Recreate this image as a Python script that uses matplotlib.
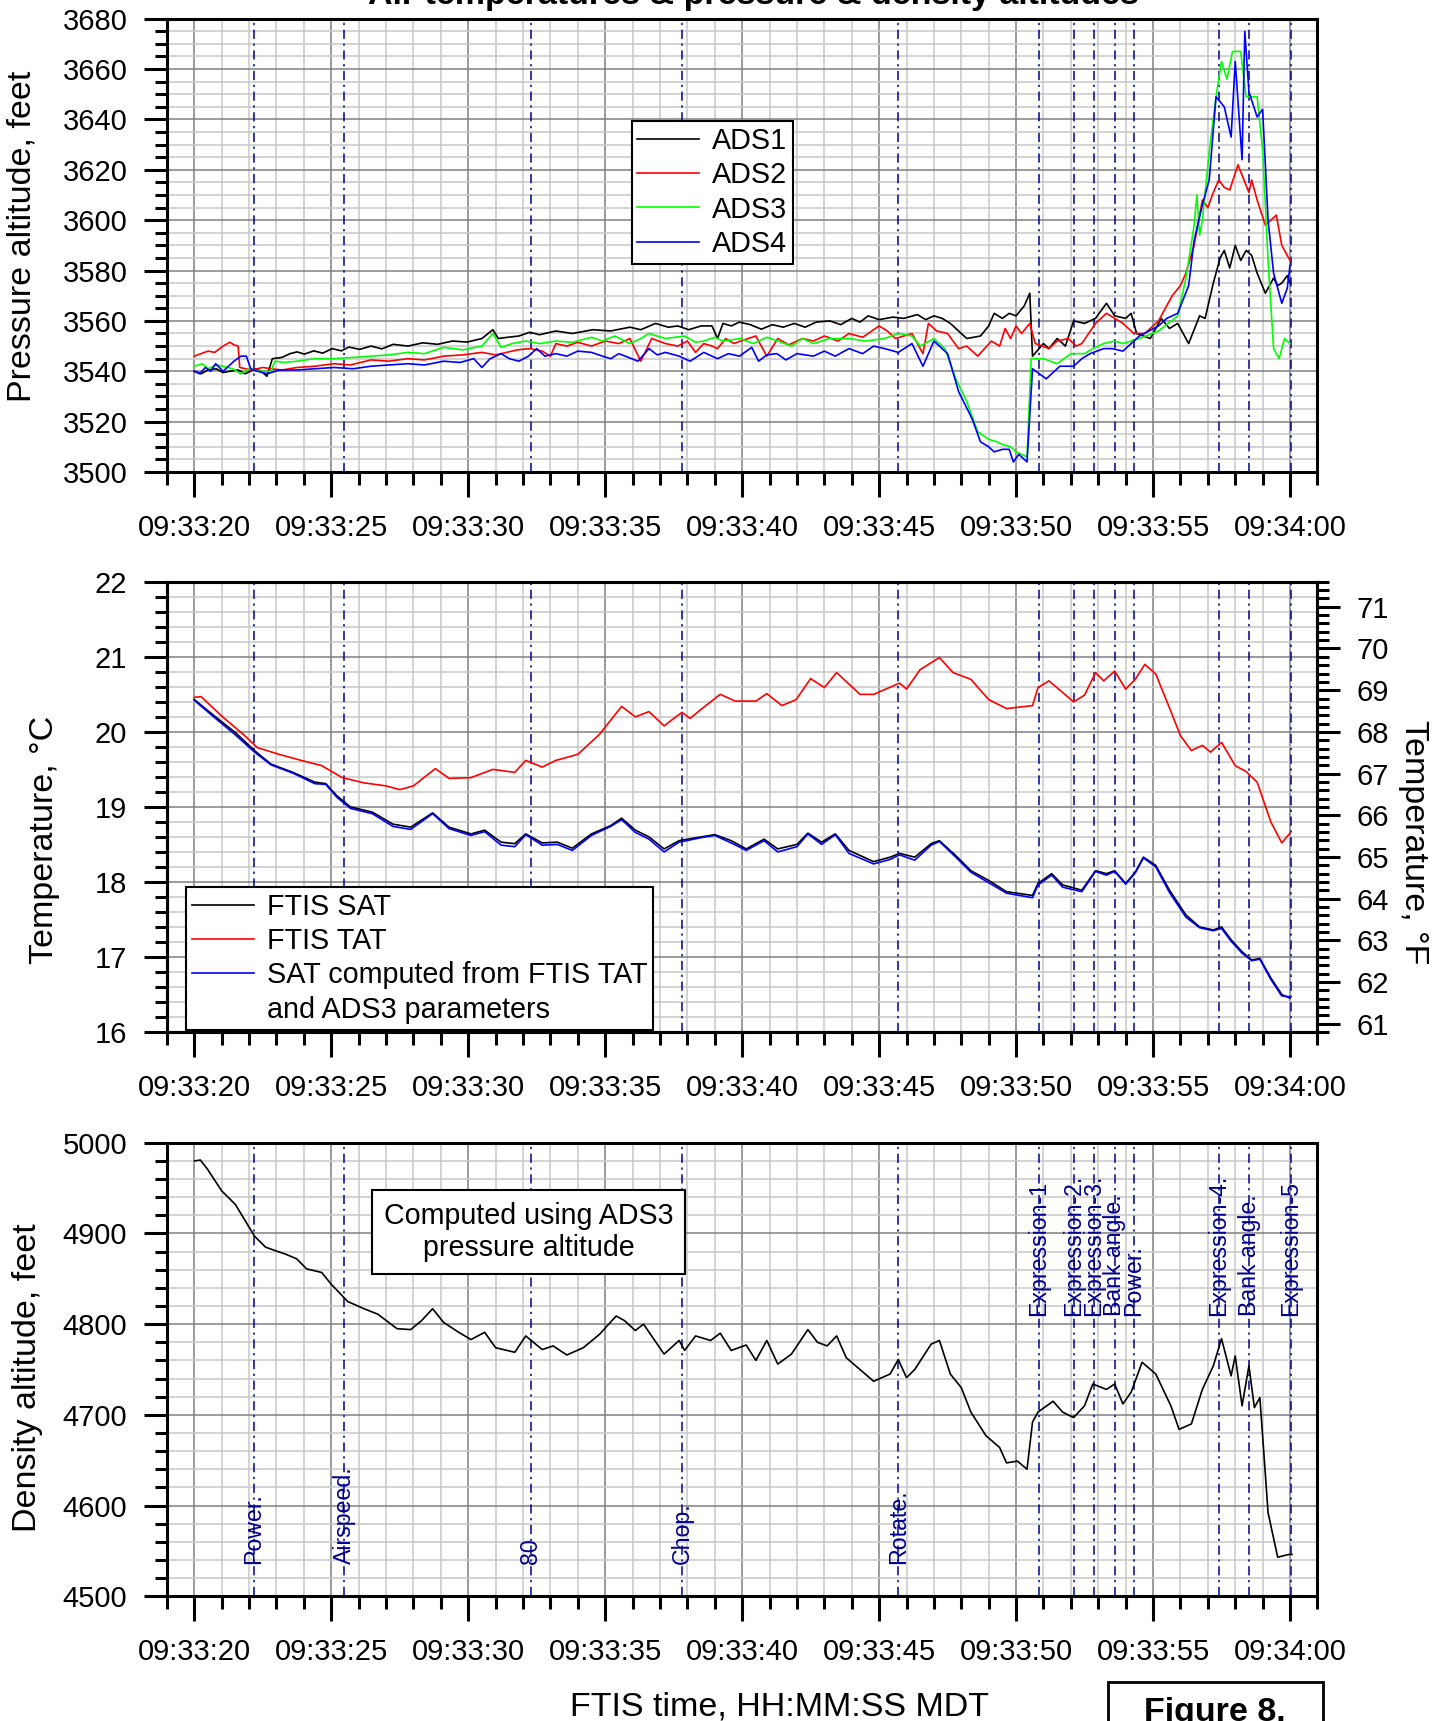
import matplotlib
matplotlib.use("Agg")
import matplotlib.pyplot as plt
from matplotlib.ticker import MultipleLocator, FuncFormatter, FormatStrFormatter
from matplotlib.lines import Line2D
from matplotlib.patches import Rectangle

plt.rcParams['font.family'] = 'Liberation Sans'

# seconds after 09:33:20 MDT
event_times = [2.17, 5.48, 12.28, 17.80, 25.70, 30.83, 32.10, 32.83, 33.61,
               34.29, 37.39, 38.51, 40.02]
event_labels = ["Power.", "Airspeed.", "80", "Chop.", "Rotate.", "Expression-1",
                "Expression-2.", "Expression-3.", "Bank angle.", "Power.",
                "Expression-4.", "Bank angle.", "Expression-5"]
event_upper = [False, False, False, False, False, True, True, True, True, True,
               True, True, True]

# pressure altitude (t, feet)
ads1 = [(0.0, 3540), (0.25, 3539), (0.5, 3540.5), (0.8, 3541), (1.05, 3539.5),
        (1.3, 3540), (1.6, 3540.5), (1.85, 3539), (2.25, 3541), (2.5, 3539.5),
        (2.65, 3538), (2.85, 3545), (3.2, 3545.5), (3.5, 3547), (3.75, 3547.7),
        (4.02, 3546.8), (4.36, 3548.1), (4.69, 3547.2), (5.03, 3549), (5.37, 3548.1),
        (5.64, 3549.6), (6.04, 3548.7), (6.45, 3550), (6.85, 3548.9), (7.26, 3550.7),
        (7.8, 3550), (8.34, 3551.3), (8.88, 3550.7), (9.42, 3552), (9.96, 3551.6),
        (10.5, 3553), (10.9, 3556.5), (11.1, 3553), (11.44, 3553.5), (11.85, 3554),
        (12.25, 3555.5), (12.6, 3554.5), (13.2, 3556), (13.8, 3555), (14.55, 3556.5),
        (15.2, 3556), (15.9, 3557.5), (16.3, 3556.5), (16.84, 3559), (17.3, 3557.5),
        (17.65, 3558), (18.05, 3556.5), (18.5, 3558), (18.9, 3558), (19.1, 3553),
        (19.3, 3559), (19.6, 3558), (19.9, 3559.5), (20.3, 3558.5), (20.7, 3556.7),
        (21.1, 3558.5), (21.5, 3557.5), (21.9, 3559), (22.3, 3557.5), (22.7, 3559.5),
        (23.2, 3560), (23.6, 3558.5), (24.0, 3561), (24.3, 3559.5), (24.6, 3562),
        (25.0, 3560.5), (25.5, 3561.5), (25.9, 3561), (26.4, 3562.5), (26.7, 3560.5),
        (27.0, 3562), (27.3, 3561), (27.6, 3559), (28.2, 3553), (28.7, 3554),
        (29.0, 3558), (29.2, 3563), (29.5, 3561), (29.75, 3563), (30.0, 3562),
        (30.3, 3566), (30.5, 3571), (30.6, 3546), (31.0, 3551), (31.2, 3549),
        (31.5, 3553), (31.8, 3550), (32.1, 3560), (32.5, 3559), (32.9, 3561),
        (33.3, 3567), (33.6, 3562), (34.0, 3561), (34.2, 3563), (34.4, 3555),
        (34.9, 3553), (35.3, 3561), (35.6, 3557), (35.9, 3559), (36.3, 3551),
        (36.7, 3562), (36.9, 3561), (37.2, 3575), (37.45, 3585), (37.6, 3588),
        (37.8, 3581), (38.0, 3590), (38.2, 3584), (38.4, 3588), (38.6, 3586),
        (38.8, 3579), (39.1, 3571), (39.4, 3577), (39.55, 3574), (39.7, 3575),
        (39.9, 3578), (40.0, 3575)]
ads2 = [(0.0, 3546), (0.25, 3547), (0.5, 3548), (0.75, 3547.5), (1.05, 3550),
        (1.3, 3551.5), (1.45, 3550.5), (1.6, 3550), (1.66, 3541.5), (2.1, 3540.5),
        (2.5, 3541.5), (2.8, 3541), (3.2, 3540.5), (3.75, 3541.5), (4.4, 3542),
        (5.1, 3543), (5.7, 3542.5), (6.45, 3544.5), (7.1, 3544), (7.8, 3545),
        (8.4, 3544.5), (9.1, 3546), (9.8, 3546.5), (10.5, 3547.5), (11.0, 3546.5),
        (11.4, 3547.5), (11.8, 3548.5), (12.25, 3549), (12.7, 3548), (13.0, 3546),
        (13.2, 3551), (13.6, 3550), (14.0, 3551.5), (14.5, 3550), (15.0, 3552),
        (15.5, 3551), (15.9, 3553), (16.3, 3544), (16.7, 3553), (17.2, 3551),
        (17.65, 3550), (18.0, 3552), (18.3, 3547.5), (18.6, 3551), (18.9, 3550),
        (19.1, 3549), (19.4, 3553), (19.7, 3551), (19.94, 3552), (20.5, 3554),
        (20.9, 3546), (21.3, 3553), (21.7, 3550.5), (22.2, 3553), (22.6, 3552),
        (23.0, 3554), (23.5, 3552), (23.9, 3555), (24.4, 3553.5), (25.0, 3558),
        (25.3, 3556), (25.6, 3553), (26.2, 3555), (26.6, 3547), (26.8, 3559),
        (27.1, 3556), (27.5, 3555), (27.9, 3549), (28.2, 3550), (28.6, 3546),
        (29.1, 3552), (29.4, 3550), (29.6, 3557), (29.8, 3553), (30.0, 3558),
        (30.2, 3555), (30.5, 3559), (30.7, 3551), (31.2, 3549), (31.5, 3552),
        (31.9, 3553), (32.2, 3550), (32.4, 3551), (32.9, 3559), (33.3, 3563),
        (33.6, 3561), (33.9, 3559), (34.3, 3555), (34.7, 3555), (35.2, 3560),
        (35.7, 3570), (36.0, 3574), (36.2, 3579), (36.5, 3590), (36.8, 3608),
        (37.0, 3605), (37.2, 3611), (37.4, 3616), (37.6, 3613), (37.8, 3612),
        (38.1, 3622), (38.5, 3611), (38.6, 3616), (38.8, 3608), (39.1, 3598),
        (39.3, 3600), (39.5, 3602), (39.7, 3590), (40.0, 3584)]
ads3 = [(0.0, 3542), (0.3, 3543), (0.5, 3541), (0.8, 3542.5), (1.05, 3542),
        (1.4, 3541), (1.7, 3539), (2.0, 3541), (2.4, 3540), (2.8, 3540),
        (2.94, 3544), (3.3, 3543.5), (3.75, 3544), (4.4, 3545), (5.1, 3545),
        (5.8, 3545.5), (6.45, 3546), (7.1, 3546.5), (7.8, 3547.5), (8.4, 3547),
        (9.1, 3549.5), (9.8, 3548.5), (10.5, 3550), (10.9, 3555), (11.2, 3549.5),
        (11.6, 3551), (12.1, 3552), (12.6, 3551), (13.2, 3552), (13.8, 3551.5),
        (14.5, 3553.5), (14.9, 3552), (15.35, 3554), (15.9, 3551), (16.3, 3553),
        (16.6, 3555), (17.2, 3553), (17.9, 3554), (18.3, 3551.5), (18.6, 3552),
        (19.0, 3553.5), (19.3, 3552), (19.94, 3553), (20.4, 3551), (20.9, 3553.5),
        (21.3, 3552), (21.8, 3550), (22.2, 3553), (22.6, 3551), (23.2, 3553),
        (23.9, 3553), (24.5, 3552), (25.2, 3553), (25.7, 3555), (26.2, 3554),
        (26.5, 3550), (27.0, 3553), (27.4, 3549), (27.8, 3537), (28.2, 3528),
        (28.6, 3516), (29.0, 3513), (29.3, 3512), (29.5, 3511), (29.8, 3510),
        (30.0, 3508), (30.4, 3506), (30.55, 3545), (31.0, 3545), (31.5, 3543),
        (32.0, 3547), (32.5, 3547), (32.8, 3549), (33.2, 3551), (33.6, 3552),
        (33.9, 3551), (34.5, 3553), (35.2, 3556), (35.9, 3562), (36.2, 3577),
        (36.5, 3598), (36.6, 3610), (36.7, 3594), (36.8, 3600), (37.05, 3627),
        (37.3, 3649), (37.5, 3663), (37.7, 3656), (37.9, 3667), (38.2, 3667),
        (38.4, 3649), (38.8, 3649), (39.0, 3628), (39.2, 3584), (39.4, 3549),
        (39.6, 3545), (39.8, 3553), (40.0, 3551)]
ads4 = [(0.0, 3540), (0.2, 3539), (0.4, 3541.5), (0.6, 3540), (0.78, 3543),
        (1.05, 3540), (1.25, 3542), (1.45, 3544), (1.7, 3546), (1.9, 3546),
        (2.06, 3541), (2.3, 3540), (2.67, 3539), (3.1, 3540.5), (3.75, 3540.5),
        (4.4, 3541), (5.1, 3541.5), (5.8, 3541), (6.45, 3542), (7.1, 3542.5),
        (7.8, 3543), (8.4, 3542.5), (9.1, 3544), (9.7, 3543.5), (10.2, 3545),
        (10.5, 3541.5), (10.8, 3545), (11.2, 3547), (11.5, 3545), (11.85, 3544),
        (12.2, 3546), (12.5, 3549), (12.8, 3546), (13.2, 3547), (13.6, 3546),
        (14.0, 3548), (14.5, 3547.5), (14.9, 3546), (15.2, 3545), (15.5, 3547),
        (16.2, 3544), (16.6, 3549), (16.9, 3546.5), (17.2, 3547.5), (17.7, 3546),
        (18.1, 3544), (18.6, 3547.5), (19.1, 3545), (19.5, 3547), (19.9, 3546),
        (20.35, 3549.5), (20.6, 3544), (20.9, 3546.5), (21.27, 3547), (21.6, 3544.5),
        (22.0, 3547), (22.6, 3546), (23.0, 3548), (23.4, 3546), (23.9, 3549),
        (24.4, 3547), (24.8, 3550), (25.2, 3549), (25.7, 3547.5), (26.2, 3551),
        (26.6, 3542), (27.0, 3552), (27.5, 3547), (27.9, 3532), (28.4, 3521),
        (28.7, 3512), (29.0, 3510), (29.2, 3508), (29.5, 3509), (29.75, 3509),
        (29.9, 3504), (30.1, 3507), (30.4, 3504), (30.6, 3541), (31.1, 3537),
        (31.6, 3542), (32.1, 3542), (32.4, 3545), (32.7, 3547), (33.2, 3549),
        (33.5, 3549), (33.9, 3548), (34.2, 3551), (34.5, 3554), (35.2, 3558),
        (35.5, 3561), (35.9, 3563), (36.3, 3574), (36.5, 3592), (36.8, 3606),
        (37.05, 3616), (37.3, 3649), (37.6, 3645), (37.85, 3633), (38.0, 3663),
        (38.25, 3624), (38.35, 3675), (38.5, 3651), (38.8, 3641), (39.0, 3644),
        (39.2, 3600), (39.4, 3579), (39.7, 3567), (39.9, 3573), (40.0, 3582)]

# temperatures (t, deg C)
ftis_sat = [(0.0, 20.43), (0.74, 20.21), (1.5, 19.99), (2.2, 19.75), (2.8, 19.57),
            (3.6, 19.46), (4.4, 19.33), (4.8, 19.31), (5.2, 19.15), (5.7, 19.00),
            (6.5, 18.93), (7.25, 18.77), (7.9, 18.73), (8.7, 18.92), (9.3, 18.73),
            (10.1, 18.64), (10.6, 18.69), (11.2, 18.53), (11.7, 18.51), (12.1, 18.64),
            (12.7, 18.52), (13.25, 18.53), (13.8, 18.45), (14.5, 18.64), (15.2, 18.75),
            (15.6, 18.85), (16.1, 18.69), (16.6, 18.60), (17.15, 18.44), (17.7, 18.55),
            (18.5, 18.60), (19.0, 18.63), (19.6, 18.55), (20.15, 18.44), (20.8, 18.57),
            (21.3, 18.44), (22.0, 18.50), (22.4, 18.65), (22.9, 18.53), (23.4, 18.64),
            (23.9, 18.42), (24.8, 18.27), (25.4, 18.33), (25.75, 18.38), (26.3, 18.33),
            (26.9, 18.51), (27.2, 18.55), (27.8, 18.35), (28.35, 18.15), (29.0, 18.02),
            (29.65, 17.87), (30.6, 17.82), (30.8, 17.98), (31.3, 18.11), (31.7, 17.96),
            (32.4, 17.89), (32.9, 18.15), (33.3, 18.11), (33.6, 18.15), (34.0, 17.98),
            (34.35, 18.13), (34.65, 18.33), (35.1, 18.22), (35.6, 17.89), (36.2, 17.56),
            (36.7, 17.40), (37.2, 17.36), (37.5, 17.40), (37.85, 17.23), (38.25, 17.07),
            (38.6, 16.96), (38.9, 16.98), (39.3, 16.72), (39.7, 16.50), (40.0, 16.45)]
ftis_tat = [(0.0, 20.46), (0.25, 20.47), (1.0, 20.21), (1.78, 19.97), (2.3, 19.79),
            (3.1, 19.70), (3.9, 19.62), (4.65, 19.55), (5.4, 19.39), (6.2, 19.32),
            (7.0, 19.28), (7.5, 19.23), (8.0, 19.28), (8.8, 19.51), (9.3, 19.38),
            (10.1, 19.39), (10.9, 19.50), (11.7, 19.46), (12.1, 19.62), (12.7, 19.53),
            (13.2, 19.62), (14.0, 19.70), (14.8, 19.97), (15.6, 20.34), (16.1, 20.20),
            (16.6, 20.27), (17.15, 20.08), (17.8, 20.26), (18.1, 20.18), (18.5, 20.30),
            (19.2, 20.50), (19.75, 20.41), (20.5, 20.41), (20.9, 20.51), (21.45, 20.35),
            (21.97, 20.43), (22.5, 20.71), (23.0, 20.59), (23.45, 20.79), (24.3, 20.50),
            (24.8, 20.50), (25.75, 20.65), (26.0, 20.57), (26.5, 20.83), (27.2, 20.99),
            (27.7, 20.79), (28.35, 20.70), (29.0, 20.43), (29.65, 20.31), (30.6, 20.35),
            (30.8, 20.59), (31.2, 20.68), (32.1, 20.40), (32.5, 20.49), (32.9, 20.79),
            (33.2, 20.68), (33.6, 20.81), (34.0, 20.57), (34.35, 20.70), (34.7, 20.90),
            (35.1, 20.77), (35.6, 20.32), (36.0, 19.95), (36.4, 19.75), (36.8, 19.82),
            (37.1, 19.73), (37.5, 19.86), (38.0, 19.55), (38.4, 19.47), (38.8, 19.33),
            (39.3, 18.80), (39.7, 18.52), (40.0, 18.65)]
sat_computed = [(0.0, 20.42), (0.74, 20.19), (1.5, 19.96), (2.2, 19.73), (2.8, 19.56),
                (3.6, 19.45), (4.4, 19.31), (4.8, 19.30), (5.2, 19.13), (5.7, 18.98),
                (6.5, 18.91), (7.25, 18.74), (7.9, 18.70), (8.7, 18.91), (9.3, 18.71),
                (10.1, 18.62), (10.6, 18.67), (11.2, 18.49), (11.7, 18.47), (12.1, 18.63),
                (12.7, 18.49), (13.25, 18.50), (13.8, 18.42), (14.5, 18.62), (15.2, 18.74),
                (15.6, 18.83), (16.1, 18.66), (16.6, 18.57), (17.15, 18.40), (17.7, 18.53),
                (18.5, 18.59), (19.0, 18.62), (19.6, 18.52), (20.15, 18.42), (20.8, 18.55),
                (21.3, 18.40), (22.0, 18.47), (22.4, 18.64), (22.9, 18.50), (23.4, 18.63),
                (23.9, 18.38), (24.8, 18.24), (25.4, 18.30), (25.75, 18.36), (26.3, 18.29),
                (26.9, 18.49), (27.2, 18.54), (27.8, 18.33), (28.35, 18.13), (29.0, 17.99),
                (29.65, 17.85), (30.6, 17.79), (30.8, 17.96), (31.3, 18.09), (31.7, 17.93),
                (32.4, 17.87), (32.9, 18.14), (33.3, 18.09), (33.6, 18.14), (34.0, 17.97),
                (34.35, 18.12), (34.65, 18.32), (35.1, 18.20), (35.6, 17.86), (36.2, 17.53),
                (36.7, 17.39), (37.2, 17.35), (37.5, 17.38), (37.85, 17.21), (38.25, 17.05),
                (38.6, 16.95), (38.9, 16.97), (39.3, 16.70), (39.7, 16.48), (40.0, 16.47)]

# density altitude from ADS3 (t, feet)
density_alt = [(0.01, 4980), (0.22, 4981), (0.48, 4971), (1.0, 4947), (1.5, 4932),
               (1.9, 4912), (2.2, 4897), (2.6, 4885), (2.96, 4881), (3.35, 4877),
               (3.74, 4872), (4.1, 4861), (4.65, 4857), (5.0, 4844), (5.6, 4825),
               (6.2, 4817), (6.7, 4811), (7.4, 4795), (7.9, 4794), (8.3, 4804),
               (8.7, 4817), (9.1, 4802), (9.6, 4792), (10.1, 4783), (10.6, 4791),
               (11.0, 4774), (11.7, 4769), (12.1, 4787), (12.7, 4772), (13.1, 4776),
               (13.6, 4766), (14.2, 4774), (14.8, 4789), (15.4, 4809), (15.7, 4804),
               (16.1, 4793), (16.4, 4800), (17.15, 4767), (17.7, 4782), (17.9, 4771),
               (18.3, 4787), (18.85, 4782), (19.2, 4790), (19.6, 4771), (20.15, 4777),
               (20.5, 4760), (20.9, 4782), (21.3, 4756), (21.8, 4767), (22.4, 4794),
               (22.75, 4780), (23.1, 4776), (23.45, 4787), (23.8, 4763), (24.3, 4750),
               (24.8, 4737), (25.4, 4745), (25.7, 4761), (26.0, 4741), (26.3, 4750),
               (26.9, 4778), (27.2, 4782), (27.6, 4745), (28.0, 4730), (28.35, 4703),
               (28.9, 4677), (29.4, 4664), (29.65, 4647), (30.05, 4649), (30.4, 4640),
               (30.6, 4692), (30.8, 4703), (31.35, 4715), (31.7, 4703), (32.1, 4697),
               (32.5, 4710), (32.8, 4734), (33.3, 4728), (33.6, 4734), (33.9, 4712),
               (34.2, 4725), (34.6, 4758), (35.1, 4745), (35.65, 4710), (35.95, 4684),
               (36.4, 4690), (36.8, 4728), (37.2, 4754), (37.5, 4784), (37.85, 4743),
               (38.0, 4765), (38.25, 4710), (38.5, 4754), (38.7, 4708), (38.9, 4719),
               (39.2, 4592), (39.55, 4543), (39.95, 4546), (40.07, 4546)]

W, H = 1447.0, 1721.0
fig = plt.figure(figsize=(W / 100, H / 100), dpi=100)

left = 166.9 / W
width = (1317.4 - 166.9) / W

def rect(top_px, bottom_px):
    return [left, 1 - bottom_px / H, width, (bottom_px - top_px) / H]

def hhmmss(t, pos):
    s = int(round(33 * 60 + 20 + t))
    return "09:%02d:%02d" % (s // 60, s % 60)

def style_axes(ax, ymin, ymax, major, minor):
    ax.set_xlim(-1, 41)
    ax.set_ylim(ymin, ymax)
    ax.xaxis.set_major_locator(MultipleLocator(5))
    ax.xaxis.set_minor_locator(MultipleLocator(1))
    ax.xaxis.set_major_formatter(FuncFormatter(hhmmss))
    ax.yaxis.set_major_locator(MultipleLocator(major))
    ax.yaxis.set_minor_locator(MultipleLocator(minor))
    ax.yaxis.set_major_formatter(FormatStrFormatter('%d'))
    ax.grid(which='minor', color='#c8c8c8', lw=1.1, zorder=0)
    ax.grid(which='major', color='#808080', lw=1.1, zorder=0)
    ax.set_axisbelow(True)
    for sp in ax.spines.values():
        sp.set_linewidth(2.2)
    ax.tick_params(axis='x', which='major', length=18, width=2.2, pad=12, labelsize=21)
    ax.tick_params(axis='x', which='minor', length=9.4, width=2.2)
    ax.tick_params(axis='y', which='major', length=16.5, width=2.2, pad=12, labelsize=21)
    ax.tick_params(axis='y', which='minor', length=8.6, width=2.2)
    for t in event_times:
        ax.axvline(t, color='#00008b', lw=1.1, ls=(0, (6, 3, 1.5, 3)), zorder=1.5)

def plot_pairs(ax, pairs, color):
    ts = [p[0] for p in pairs]
    vs = [p[1] for p in pairs]
    return ax.plot(ts, vs, color=color, lw=1.2, zorder=3)[0]

def boxed_legend(ax, handles, labels, anchor):
    leg = ax.legend(handles, labels, loc='upper left', bbox_to_anchor=anchor,
                    fontsize=20.7, fancybox=False, edgecolor='black', framealpha=1,
                    handlelength=2.15, handletextpad=0.45, borderpad=0.2,
                    labelspacing=0.22, borderaxespad=0)
    leg.get_frame().set_linewidth(1.5)
    return leg

# pressure altitudes
ax1 = fig.add_axes(rect(18.7, 472.0))
style_axes(ax1, 3500, 3680, 20, 5)
h = [plot_pairs(ax1, ads1, 'black'), plot_pairs(ax1, ads2, '#ff0000'),
     plot_pairs(ax1, ads3, '#00ff00'), plot_pairs(ax1, ads4, '#0000ff')]
boxed_legend(ax1, h, ["ADS1", "ADS2", "ADS3", "ADS4"], (0.404, 0.774))

# temperatures
ax2 = fig.add_axes(rect(581.8, 1032.0))
style_axes(ax2, 16, 22, 1, 0.2)
h = [plot_pairs(ax2, ftis_sat, 'black'), plot_pairs(ax2, ftis_tat, '#ff0000'),
     plot_pairs(ax2, sat_computed, '#0000ff'), Line2D([], [], color='none')]
boxed_legend(ax2, h, ["FTIS SAT", "FTIS TAT", "SAT computed from FTIS TAT",
                      "and ADS3 parameters"], (0.017, 0.322))

axf = ax2.twinx()
axf.set_ylim(16 * 9 / 5 + 32, 22 * 9 / 5 + 32)
axf.yaxis.set_major_locator(MultipleLocator(1))
axf.yaxis.set_minor_locator(MultipleLocator(0.2))
axf.yaxis.set_major_formatter(FormatStrFormatter('%d'))
axf.tick_params(axis='y', which='major', length=16.5, width=2.2, pad=12, labelsize=21)
axf.tick_params(axis='y', which='minor', length=8.6, width=2.2)
for sp in axf.spines.values():
    sp.set_linewidth(2.2)

# density altitude
ax3 = fig.add_axes(rect(1142.8, 1596.2))
style_axes(ax3, 4500, 5000, 100, 20)
plot_pairs(ax3, density_alt, 'black')
ax3.text(0.3144, 0.803, "Computed using ADS3\npressure altitude",
         transform=ax3.transAxes, ha='center', va='center', fontsize=20.6,
         multialignment='center', zorder=5,
         bbox=dict(boxstyle='square,pad=0.4', fc='white', ec='black', lw=1.5))
for t, lab, up in zip(event_times, event_labels, event_upper):
    ax3.text(t, 4809 if up else 4535, lab, rotation=90, ha='center', va='bottom',
             color='#00008b', fontsize=16.7, zorder=4)

# labels
fig.text(753 / W, 1 - 4 / H, "Air temperatures & pressure & density altitudes",
         ha='center', va='baseline', fontsize=24.5, fontweight='bold')
fig.text(22 / W, 1 - 236 / H, "Pressure altitude, feet", rotation=90,
         ha='center', va='center', fontsize=24.5)
fig.text(45 / W, 1 - 840 / H, "Temperature, \u00b0C", rotation=90,
         ha='center', va='center', fontsize=24.5)
fig.text(27.5 / W, 1 - 1378 / H, "Density altitude, feet", rotation=90,
         ha='center', va='center', fontsize=24.5)
fig.text(1414 / W, 1 - 842.6 / H, "Temperature, \u00b0F", rotation=270,
         ha='center', va='center', fontsize=24.5)
fig.text(779.5 / W, 1 - 1716 / H, "FTIS time, HH:MM:SS MDT",
         ha='center', va='baseline', fontsize=24.5)

fig.add_artist(Rectangle((1108 / W, -0.02), (1323 - 1108) / W, (H - 1682) / H + 0.02,
                         transform=fig.transFigure, fill=False, ec='black', lw=2))
fig.text(1215 / W, 1 - 1697 / H, "Figure 8.", ha='center', va='top',
         fontsize=24.5, fontweight='bold')

fig.savefig("out.png", dpi=100)
